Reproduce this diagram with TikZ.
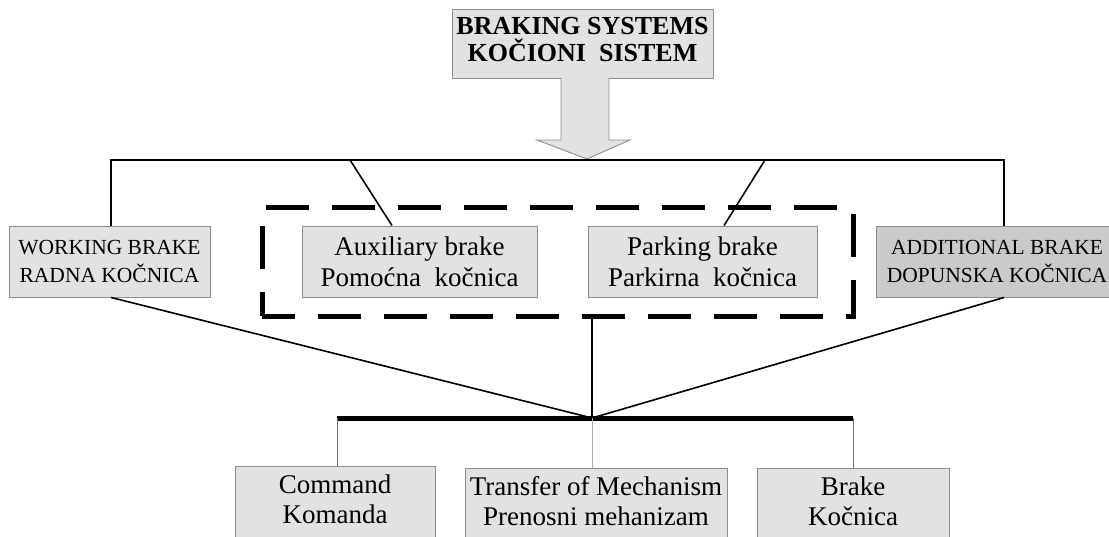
\documentclass[tikz,border=0pt]{standalone}
\usepackage{fontspec}
\setmainfont{Liberation Serif}
\usetikzlibrary{positioning}
\definecolor{BoxGray}{HTML}{E1E2E4}
\definecolor{BoxDark}{HTML}{C9CACC}
\definecolor{EdgeGray}{HTML}{8C8C8C}

\begin{document}
\begin{tikzpicture}[x=1pt,y=-1pt,
  box/.style={draw=EdgeGray,fill=BoxGray,line width=0.9pt,align=center,inner sep=0pt},
  midbox/.style={box,minimum height=71pt,font=\fontsize{27}{31}\selectfont},
  capbox/.style={box,minimum height=71pt,font=\fontsize{21.5}{28}\selectfont},
  lowbox/.style={box,anchor=north,font=\fontsize{27}{30}\selectfont,text height=49pt,text depth=20pt,inner ysep=8pt},
  link/.style={line width=1.6pt},
  drop/.style={line width=0.9pt,draw=EdgeGray!80!black}]
  \useasboundingbox (0,0) rectangle (1109,536);
  % title with the big arrow
  \node[box,minimum width=261pt,minimum height=69pt,text depth=8pt,font=\bfseries\fontsize{26}{27}\selectfont] (title) at (582.5,43.5) {BRAKING SYSTEMS\\KOČIONI~ SISTEM};
  \filldraw[draw=EdgeGray,fill=BoxGray,line width=0.9pt] (561,77.5)--(561,140)--(537,140)--(587,159)--(630,140)--(609,140)--(609,77.5);
  % kinds of brakes
  \node[capbox,minimum width=201pt] (work) at (109.5,261.5) {WORKING BRAKE\\RADNA KOČNICA};
  \node[midbox,minimum width=235pt] (aux) at (419.5,261.5) {Auxiliary brake\\Pomoćna~ kočnica};
  \node[midbox,minimum width=229pt] (park) at (702.5,261.5) {Parking brake\\Parkirna~ kočnica};
  \node[capbox,minimum width=242pt,fill=BoxDark] (add) at (997,261.5) {ADDITIONAL BRAKE\\DOPUNSKA KOČNICA};
  \node[draw,line width=5pt,dash pattern=on 43pt off 23pt,dash phase=10pt,minimum width=591pt,minimum height=109pt] (group) at (557.5,261.5) {};
  % parts
  \node[lowbox,minimum width=200pt] (cmd) at (335,466) {Command\\Komanda};
  \node[lowbox,minimum width=262pt] (trans) at (596,468) {Transfer of Mechanism\\Prenosni mehanizam};
  \node[lowbox,minimum width=192pt] (brake) at (853,468) {Brake\\Kočnica};
  % upper bus
  \coordinate (busL) at (111,160);\coordinate (busR) at (1004,160);
  \coordinate (auxTop) at (350,160);\coordinate (parkTop) at (765,160);
  \draw[line width=2pt] (work.north -| busL) -- (busL) -- (busR) -- (busR |- add.north);
  \draw[link] (auxTop) -- ([xshift=-27.5pt]aux.north);
  \draw[link] (parkTop) -- ([xshift=21.5pt]park.north);
  % lower bus
  \coordinate (hub) at (592,418);
  \coordinate (barL) at (337,418);\coordinate (barR) at (853,418);
  \draw[link] (work.south -| busL) -- (hub);
  \draw[link] (add.south -| busR) -- (hub);
  \draw[link] (group.south -| hub) -- (hub);
  \draw[line width=5pt] (barL) -- (barR);
  \draw[drop] (barL) -- (barL |- cmd.north);
  \draw[drop,draw=EdgeGray!70] (hub) -- (hub |- trans.north);
  \draw[drop] (barR) -- (brake.north);
\end{tikzpicture}
\end{document}
